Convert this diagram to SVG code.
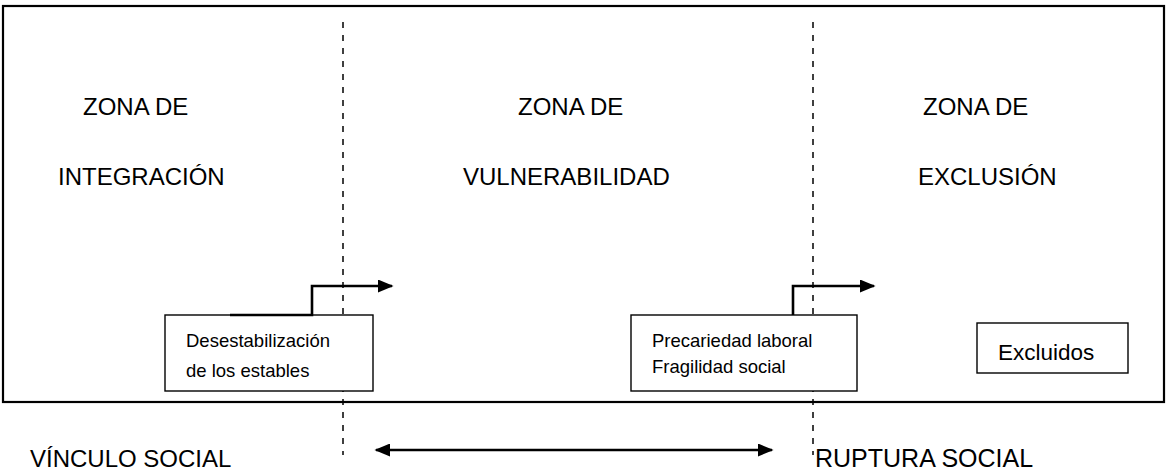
<svg xmlns="http://www.w3.org/2000/svg" width="1168" height="476" viewBox="0 0 1168 476">
<defs>
<style>
.t{font-family:"Liberation Sans",Arial,sans-serif;fill:#000}
.big{font-size:24px}
.small{font-size:18.5px}
.box{fill:#fff;stroke:#000;stroke-width:1.4}
.dash{stroke:#000;stroke-width:1.5;stroke-dasharray:6 7;fill:none}
.conn{stroke:#000;stroke-width:2.6;fill:none}
</style>
<marker id="ah" viewBox="0 0 10 10" refX="9" refY="5" markerWidth="6" markerHeight="5" orient="auto-start-reverse" markerUnits="strokeWidth" preserveAspectRatio="none">
<path d="M0,0 L10,5 L0,10 z" fill="#000"/>
</marker>
</defs>
<rect width="1168" height="476" fill="#fff"/>
<g id="frame">
<rect x="3" y="6" width="1161" height="396" fill="none" stroke="#000" stroke-width="2.2"/>
</g>
<g id="dividers">
<line class="dash" x1="343" y1="22" x2="343" y2="455"/>
<line class="dash" x1="813" y1="22" x2="813" y2="455"/>
</g>
<g id="zone-integracion">
<text class="t big" x="83" y="115">ZONA DE</text>
<text class="t big" x="58" y="185">INTEGRACIÓN</text>
</g>
<g id="zone-vulnerabilidad">
<text class="t big" x="518" y="115">ZONA DE</text>
<text class="t big" x="463" y="185">VULNERABILIDAD</text>
</g>
<g id="zone-exclusion">
<text class="t big" x="923" y="115">ZONA DE</text>
<text class="t big" x="918" y="185">EXCLUSIÓN</text>
</g>
<g id="box-desestabilizacion">
<rect class="box" x="165" y="315" width="208" height="76"/>
<text class="t small" x="186" y="347">Desestabilización</text>
<text class="t small" x="186" y="377">de los estables</text>
</g>
<g id="box-precariedad">
<rect class="box" x="631" y="315" width="226" height="76"/>
<text class="t small" x="652" y="347">Precariedad laboral</text>
<text class="t small" x="652" y="373">Fragilidad social</text>
</g>
<g id="box-excluidos">
<rect class="box" x="977" y="323" width="151" height="50"/>
<text class="t" style="font-size:22.5px" x="998" y="360">Excluidos</text>
</g>
<g id="connectors">
<polyline class="conn" points="230,315 312,315 312,286 392,286" marker-end="url(#ah)"/>
<polyline class="conn" points="793,315 793,286 874,286" marker-end="url(#ah)"/>
<line class="conn" x1="376" y1="450" x2="772" y2="450" marker-start="url(#ah)" marker-end="url(#ah)"/>
</g>
<g id="axis-labels">
<text class="t big" x="30" y="467">VÍNCULO SOCIAL</text>
<text class="t" style="font-size:25px" x="815" y="467">RUPTURA SOCIAL</text>
</g>
</svg>
